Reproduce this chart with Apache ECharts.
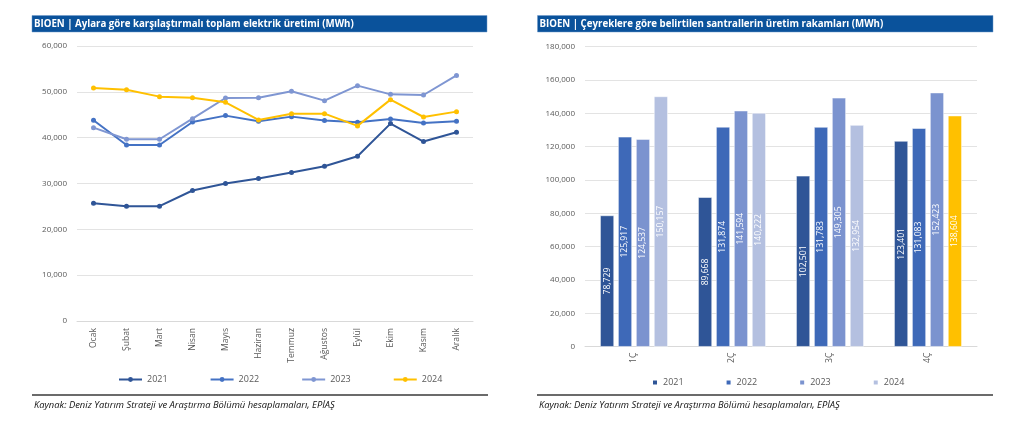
<!DOCTYPE html>
<html><head><meta charset="utf-8">
<script src="https://cdn.jsdelivr.net/npm/echarts@6/dist/echarts.min.js"></script>
<style>html,body{margin:0;padding:0;background:#fff;}#wrap{width:1024px;height:438px;position:relative;}#c1{position:absolute;left:0;top:0;width:512px;height:438px;}#c2{position:absolute;left:512px;top:0;width:512px;height:438px;}</style>
</head><body><div id="wrap"><div id="c1"></div><div id="c2"></div></div>
<script>
const months = ['Ocak','Şubat','Mart','Nisan','Mayıs','Haziran','Temmuz','Ağustos','Eylül','Ekim','Kasım','Aralık'];
const years = ['2021','2022','2023','2024'];
const m2021 = [25700,25050,25050,28470,30000,31080,32390,33770,35950,43070,39150,41180];
const m2022 = [43790,38410,38410,43430,44810,43570,44590,43720,43350,44080,43210,43570];
const m2023 = [42190,39650,39650,44150,48650,48730,50110,48080,51350,49450,49310,53590];
const m2024 = [50830,50470,48950,48730,47710,43860,45240,45240,42570,48300,44510,45680];
const quarters = ['1Ç','2Ç','3Ç','4Ç'];
const q2021 = [78729,89668,102501,123401];
const q2022 = [125917,131874,131783,131083];
const q2023 = [124537,141594,149305,152423];
const q2024 = [150157,140222,132954,138604];
const leftTitle = 'BIOEN | Aylara göre karşılaştırmalı toplam elektrik üretimi (MWh)';
const rightTitle = 'BIOEN | Çeyreklere göre belirtilen santrallerin üretim rakamları (MWh)';
const source = 'Kaynak: Deniz Yatırım Strateji ve Araştırma Bölümü hesaplamaları, EPİAŞ';

const FONT = '"Open Sans", "Noto Sans", sans-serif';
const lineColors = ['#2F5597','#4472C4','#7F96D2','#FFC000'];
const barColors = ['#2F5597','#3E69B8','#7B93CF','#B4C0E0'];
const gold = '#FFC000';
const fmt = v => v.toLocaleString('en-US');

function header(x, w, text) {
  return [
    {type:'rect', shape:{x:x, y:15.5, width:w, height:16.5}, style:{fill:'#0A529B', stroke:'#6f98c8', lineWidth:0.5}},
    {type:'text', x:x+2, y:23.8, style:{text:text, fill:'#fff', font:'bold 9.7px '+FONT, textVerticalAlign:'middle'}},
  ];
}
function footer(x, w) {
  return [
    {type:'line', shape:{x1:x, y1:395, x2:x+w, y2:395}, style:{stroke:'#3a3a3a', lineWidth:1.3}},
    {type:'text', x:x+2, y:405, style:{text:source, fill:'#111', font:'italic 9.4px '+FONT, textVerticalAlign:'middle'}},
  ];
}

const axisLabel = {color:'#595959', fontSize:8, fontFamily:FONT};

const c1 = echarts.init(document.getElementById('c1'));
const lineData = [m2021, m2022, m2023, m2024];
c1.setOption({
  animation:false,
  grid:{left:77, right:39, top:46, bottom:117},
  legend:{left:113, top:370, itemGap:42, itemWidth:23, itemHeight:6, data:years,
    textStyle:{color:'#595959', fontSize:9, fontFamily:FONT}},
  xAxis:{type:'category', data:months, boundaryGap:true,
    axisLine:{show:true, lineStyle:{color:'#d9d9d9'}}, axisTick:{show:false},
    axisLabel:Object.assign({}, axisLabel, {rotate:90, margin:7, interval:0, fontSize:8.6})},
  yAxis:{type:'value', min:0, max:60000, interval:10000,
    axisLabel:Object.assign({formatter:v=>fmt(v), margin:10}, axisLabel),
    splitLine:{lineStyle:{color:'#e3e3e3'}}, axisLine:{show:false}, axisTick:{show:false}},
  series: years.map((y,i)=>({name:y, type:'line', data:lineData[i], symbol:'circle', symbolSize:5,
    lineStyle:{width:2, color:lineColors[i]}, itemStyle:{color:lineColors[i]}, z:2+i})),
  graphic: header(32, 455, leftTitle).concat(footer(32, 456)),
});

const c2 = echarts.init(document.getElementById('c2'));
const barData = [q2021, q2022, q2023, q2024];
c2.setOption({
  animation:false,
  grid:{left:73, right:47, top:46.7, bottom:91.3},
  legend:{left:134, top:373, itemGap:41, itemWidth:6, itemHeight:6, icon:'rect', data:years,
    textStyle:{color:'#595959', fontSize:9, fontFamily:FONT}},
  xAxis:{type:'category', data:quarters,
    axisLine:{show:true, lineStyle:{color:'#d9d9d9'}}, axisTick:{show:false},
    axisLabel:Object.assign({}, axisLabel, {rotate:90, margin:6, fontSize:8.6})},
  yAxis:{type:'value', min:0, max:180000, interval:20000,
    axisLabel:Object.assign({formatter:v=>fmt(v), margin:10}, axisLabel),
    splitLine:{lineStyle:{color:'#e3e3e3'}}, axisLine:{show:false}, axisTick:{show:false}},
  series: years.map((y,i)=>({name:y, type:'bar', barGap:'30%', barCategoryGap:'31%',
    data: barData[i].map((v,j)=> (i===3 && j===3) ? {value:v, itemStyle:{color:gold}} : v),
    itemStyle:{color:barColors[i], borderColor:'#ffffff', borderWidth:0.5},
    label:{show:true, position:'inside', rotate:90, color:'#fff', fontSize:8.6, fontFamily:FONT, formatter:p=>fmt(p.value)}})),
  graphic: header(25.5, 455.5, rightTitle).concat(footer(25, 456)),
});
</script></body></html>
